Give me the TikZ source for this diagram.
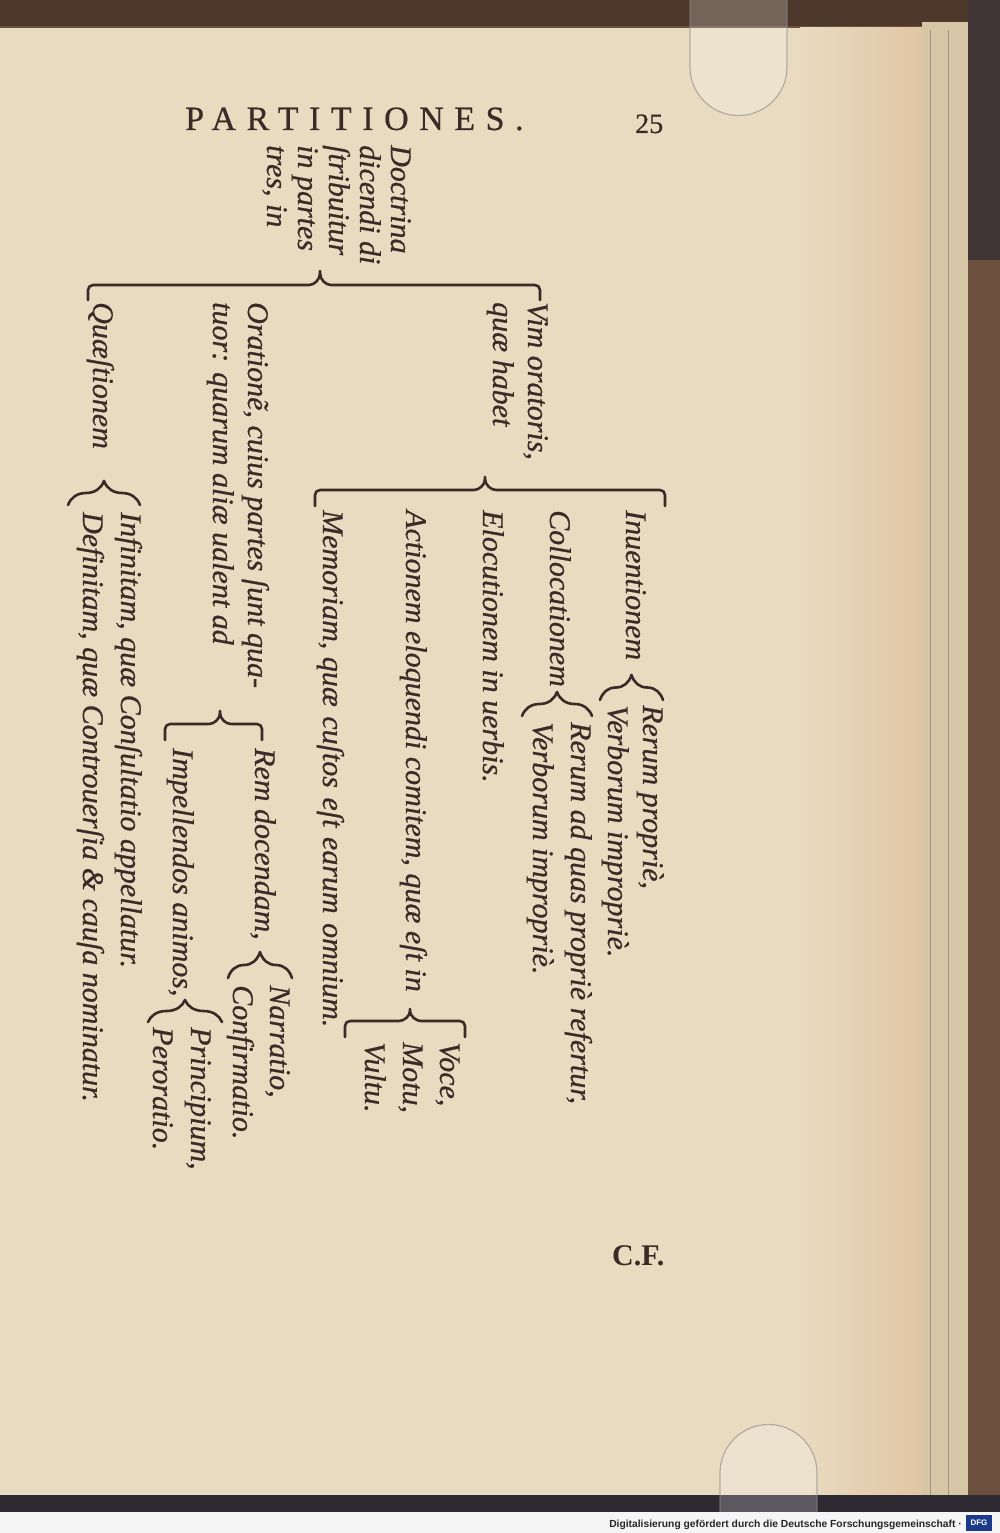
\documentclass[tikz,border=0pt]{standalone}
\usepackage{fontspec}
\setmainfont{Liberation Serif}
\newfontfamily\hdrfont[LetterSpace=31,FakeBold=0.5]{Liberation Serif}
\newfontface\numfont{Liberation Serif}[FakeBold=0.5]
\newfontface\inkit{Liberation Serif Italic}[FakeBold=0.6]
\newfontfamily\dfgfont{Liberation Sans}
\usetikzlibrary{decorations.pathreplacing}
\definecolor{inkc}{RGB}{58,42,40}
\definecolor{pagec}{RGB}{233,219,192}
\definecolor{stainc}{RGB}{224,198,164}
\definecolor{edgec}{RGB}{214,198,166}
\definecolor{framec}{RGB}{110,80,62}
\definecolor{darkc}{RGB}{45,42,50}
\definecolor{dfgblue}{RGB}{28,58,140}
\begin{document}
\begin{tikzpicture}[x=1pt,y=-1pt,
  ink/.style={draw=inkc, line width=2.6pt, line cap=round, line join=round},
  txt/.style={rotate=-90, anchor=base west, inner sep=0pt, text=inkc,
              font=\inkit\fontsize{30}{34}\selectfont},
  curly/.style={ink, decorate, decoration={brace, amplitude=#1}},
  clip/.style={fill=white, fill opacity=0.22, draw=black!45, draw opacity=0.6, line width=1.2pt},
]
\useasboundingbox (0,0) rectangle (1000,1533);
% ---------- background: book, page, edges ----------
\fill[framec] (0,0) rectangle (1000,1533);
\fill[black!30!framec] (0,0) rectangle (1000,26);
\fill[pagec] (0,28) rectangle (922,1495);
\shade[left color=pagec, right color=stainc] (800,28) rectangle (922,1495);
\fill[edgec] (922,22) rectangle (968,1500);
\draw[black!25!edgec, line width=1pt] (930,30) -- (930,1495) (948,30) -- (948,1495);
\fill[darkc!70!framec] (968,0) rectangle (1000,260);
\fill[darkc] (0,1495) rectangle (1000,1512);
\fill[black!4] (0,1512) rectangle (1000,1533);
% clips
\draw[clip] (690,0) -- (690,67) arc[start angle=180, end angle=360, radius=48.5pt] -- (787,0);
\draw[clip] (720,1512) -- (720,1473) arc[start angle=180, end angle=0, radius=48.5pt] -- (817,1512);
% ---------- running head ----------
\node[anchor=base west, inner sep=0pt, text=inkc, font=\hdrfont\fontsize{34}{36}\selectfont] (head) at (185,130) {PARTITIONES.};
\node[anchor=base west, inner sep=0pt, text=inkc, font=\numfont\fontsize{28}{30}\selectfont] (pnum) at (635,133) {25};
\node[anchor=base west, inner sep=0pt, text=inkc, font=\fontsize{30}{32}\selectfont\bfseries] (sig) at (612,1265) {C.F.};
% ---------- root ----------
\node[txt] (d1) at (391,145) {Doctrina};
\node[txt] (d2) at (360,145) {dicendi di};
\node[txt] (d3) at (329,145) {ſtribuitur};
\node[txt] (d4) at (298,145) {in partes};
\node[txt] (d5) at (267,145) {tres, in};
% brace 1
\coordinate (b1-l) at (88,300);
\coordinate (b1-r) at (540,300);
\coordinate (b1-t) at (320,268);
\draw[ink, rounded corners=5pt] (b1-l) -- (88,285) -- (304,285)
  .. controls (314,285) and (320,280) .. (b1-t)
  .. controls (320,280) and (326,285) .. (336,285) -- (540,285) -- (b1-r);
% ---------- level 1 ----------
\node[txt] (v1) at (528,302) {Vim oratoris,};
\node[txt] (v2) at (493,302) {quæ habet};
\node[txt] (o1) at (248,302) {Orationẽ, cuius partes ſunt qua-};
\node[txt] (o2) at (213,302) {tuor: quarum aliæ ualent ad};
\node[txt] (q)  at (93,302) {Quæſtionem};
% brace 2 (Vim oratoris)
\coordinate (b2-l) at (315,506);
\coordinate (b2-r) at (665,506);
\coordinate (b2-t) at (485,474);
\draw[ink, rounded corners=5pt] (b2-l) -- (315,490) -- (469,490)
  .. controls (479,490) and (485,485) .. (b2-t)
  .. controls (485,485) and (491,490) .. (501,490) -- (665,490) -- (b2-r);
% ---------- children of Vim oratoris ----------
\node[txt] (i1) at (626,510) {Inuentionem};
\node[txt] (c1) at (550,510) {Collocationem};
\node[txt] (e1) at (483,510) {Elocutionem in uerbis.};
\node[txt] (a1) at (406,510) {Actionem eloquendi comitem, quæ eſt in};
\node[txt] (m1) at (323,510) {Memoriam, quæ \hspace{2pt}cuſtos \hspace{2pt}eſt \hspace{2pt}earum \hspace{2pt}omnium.};
% Inuentionem
\coordinate (bi-l) at (600,700);
\coordinate (bi-r) at (663,700);
\draw[curly=25pt] (bi-l) -- (bi-r);
\node[txt] (i2) at (643,705) {Rerum propriè,};
\node[txt] (i3) at (608,705) {Verborum impropriè.};
% Collocationem
\coordinate (bc-l) at (522,716);
\coordinate (bc-r) at (592,716);
\draw[curly=24pt] (bc-l) -- (bc-r);
\node[txt] (c2) at (571,722) {Rerum ad quas propriè refertur,};
\node[txt] (c3) at (533,722) {Verborum impropriè.};
% Actionem
\coordinate (b4-l) at (345,1037);
\coordinate (b4-r) at (465,1037);
\coordinate (b4-t) at (410,1006);
\draw[ink, rounded corners=5pt] (b4-l) -- (345,1021) -- (394,1021)
  .. controls (404,1021) and (410,1016) .. (b4-t)
  .. controls (410,1016) and (416,1021) .. (426,1021) -- (465,1021) -- (b4-r);
\node[txt] (a2) at (440,1042) {Voce,};
\node[txt] (a3) at (403,1042) {Motu,};
\node[txt] (a4) at (365,1042) {Vultu.};
% ---------- children of Oratione ----------
\coordinate (b3-l) at (165,740);
\coordinate (b3-r) at (262,740);
\coordinate (b3-t) at (220,708);
\draw[ink, rounded corners=5pt] (b3-l) -- (165,724) -- (204,724)
  .. controls (214,724) and (220,719) .. (b3-t)
  .. controls (220,719) and (226,724) .. (236,724) -- (262,724) -- (b3-r);
\node[txt] (r1) at (255,748) {Rem docendam,};
\node[txt] (p1) at (173,748) {Impellendos animos,};
% Rem docendam
\coordinate (br-l) at (228,978);
\coordinate (br-r) at (292,978);
\draw[curly=26pt] (br-l) -- (br-r);
\node[txt] (r2) at (270,985) {Narratio,};
\node[txt] (r3) at (233,985) {Confirmatio.};
% Impellendos
\coordinate (bp-l) at (148,1022);
\coordinate (bp-r) at (222,1022);
\draw[curly=22pt] (bp-l) -- (bp-r);
\node[txt] (p2) at (191,1027) {Principium,};
\node[txt] (p3) at (153,1027) {Peroratio.};
% ---------- children of Quaestionem ----------
\coordinate (bq-l) at (68,505);
\coordinate (bq-r) at (140,505);
\draw[curly=24pt] (bq-l) -- (bq-r);
\node[txt] (q1) at (121,512) {Infinitam, quæ Conſultatio appellatur.};
\node[txt] (q2) at (83,512) {Definitam, quæ Controuerſia \& cauſa nominatur.};
% ---------- digitisation footer ----------
\node[anchor=base east, inner sep=0pt, text=black!85, font=\dfgfont\bfseries\fontsize{10.3}{12}\selectfont] (dfgtxt) at (962,1527) {Digitalisierung gefördert durch die Deutsche Forschungsgemeinschaft ·};
\node[fill=dfgblue, text=white, font=\dfgfont\bfseries\fontsize{8}{9}\selectfont, inner sep=1pt, minimum width=26pt, minimum height=16pt] (dfglogo) at (979,1523) {DFG};
\end{tikzpicture}
\end{document}
